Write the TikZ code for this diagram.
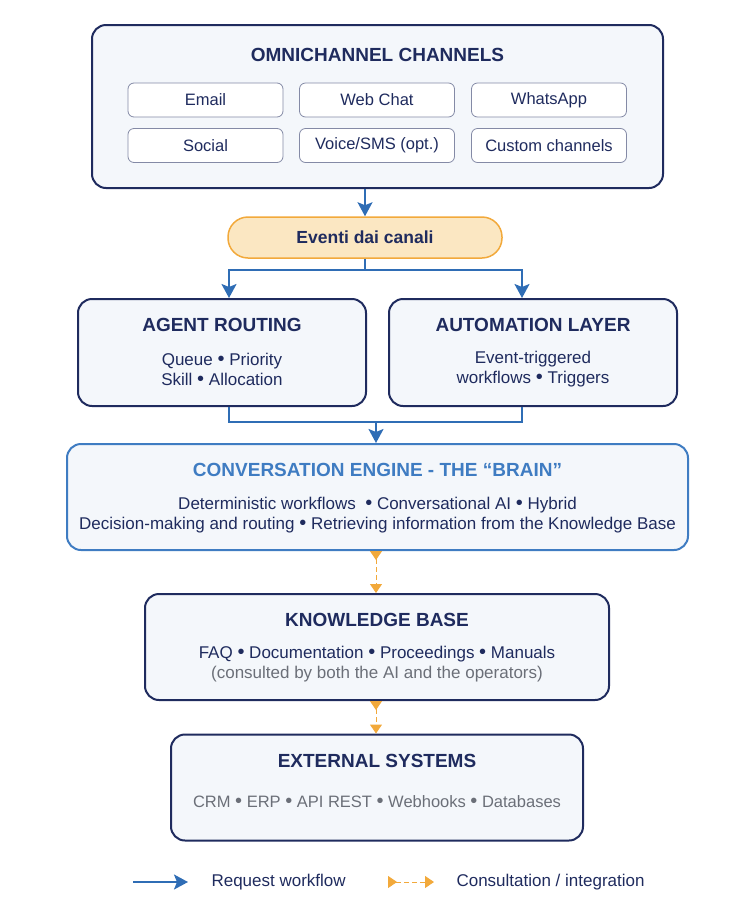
\documentclass[tikz,border=0pt]{standalone}
\usepackage{fontspec}
\setmainfont{Liberation Sans}
\usetikzlibrary{arrows.meta, positioning}
\definecolor{navy}{HTML}{1F2B5E}
\definecolor{flowblue}{HTML}{2F6DB5}
\definecolor{brainblue}{HTML}{3F7CC2}
\definecolor{amber}{HTML}{F2A93B}
\definecolor{pillfill}{HTML}{FBE7C2}
\definecolor{panelfill}{HTML}{F4F7FB}
\definecolor{softgray}{HTML}{6B6F78}

\newcommand{\bul}{{\fontsize{20}{20}\selectfont •}}

\tikzset{
  panel/.style={draw=navy, line width=2pt, fill=panelfill, rounded corners=14pt},
  chanbox/.style={draw=navy!55, line width=0.8pt, fill=white, rounded corners=6pt,
    minimum width=155pt, minimum height=34pt, text=navy, font=\fontsize{16.5}{19}\selectfont},
  paneltitle/.style={text=navy, font=\bfseries\fontsize{19}{22}\selectfont},
  body/.style={text=navy, align=center, font=\fontsize{17}{20}\selectfont},
  flowline/.style={draw=flowblue, line width=2pt},
  flow/.style={flowline, -{Stealth[length=14pt, width=15pt, inset=3pt]}},
  consult/.style={draw=amber, dash pattern=on 5pt off 3pt, line width=1pt,
    {Triangle[reversed, length=9pt, width=12pt]}-{Triangle[length=9pt, width=12pt]}},
}

\begin{document}
\begin{tikzpicture}[x=1pt, y=-1pt]
  \useasboundingbox (0,0) rectangle (732,911);

  % channels
  \node[panel, minimum width=571pt, minimum height=163pt] (omni) at (377.5,106.5) {};
  \node[paneltitle] (omnititle) at ([yshift=-31pt]omni.north) {OMNICHANNEL CHANNELS};
  \node[chanbox] (email) at (205.5,100) {Email};
  \node[chanbox] (webchat) at (377,100) {Web Chat};
  \node[chanbox] (whatsapp) at (549,100) {WhatsApp};
  \node[chanbox] (social) at (205.5,145.5) {Social};
  \node[chanbox] (voice) at (377,145.5) {Voice/SMS (opt.)};
  \node[chanbox] (custom) at (549,145.5) {Custom channels};

  % events
  \node[draw=amber, line width=1.5pt, fill=pillfill, rounded corners=20pt,
        minimum width=274pt, minimum height=41pt, text=navy,
        font=\bfseries\fontsize{17.5}{20}\selectfont] (eventi) at (365,237.5) {Eventi dai canali};

  % routing and automation
  \node[panel, minimum width=288pt, minimum height=107pt] (agent) at (222,352.5) {};
  \node[paneltitle] (agenttitle) at ([yshift=-27pt]agent.north) {AGENT ROUTING};
  \node[body] (agentbody) at ([yshift=-71pt]agent.north) {Queue \bul{} Priority\\Skill \bul{} Allocation};

  \node[panel, minimum width=288pt, minimum height=107pt] (auto) at (533,352.5) {};
  \node[paneltitle] (autotitle) at ([yshift=-27pt]auto.north) {AUTOMATION LAYER};
  \node[body] (autobody) at ([yshift=-71pt]auto.north) {Event-triggered\\workflows \bul{} Triggers};

  % engine
  \node[panel, draw=brainblue, minimum width=621pt, minimum height=106pt] (brain) at (377.5,497) {};
  \node[paneltitle, text=brainblue] (braintitle) at ([yshift=-27pt]brain.north) {CONVERSATION ENGINE - THE “BRAIN”};
  \node[body] (brainbody) at ([yshift=-72pt]brain.north)
    {Deterministic workflows \ \bul{} Conversational AI \bul{} Hybrid\\Decision-making and routing \bul{} Retrieving information from the Knowledge Base};

  % knowledge base
  \node[panel, minimum width=464pt, minimum height=106pt] (kb) at (377,647) {};
  \node[paneltitle] (kbtitle) at ([yshift=-27pt]kb.north) {KNOWLEDGE BASE};
  \node[body] (kbbody) at ([yshift=-71pt]kb.north)
    {FAQ \bul{} Documentation \bul{} Proceedings \bul{} Manuals\\\textcolor{softgray}{(consulted by both the AI and the operators)}};

  % external systems
  \node[panel, minimum width=412pt, minimum height=106pt] (ext) at (377,787.5) {};
  \node[paneltitle] (exttitle) at ([yshift=-27pt]ext.north) {EXTERNAL SYSTEMS};
  \node[body, text=softgray, font=\fontsize{16.5}{20}\selectfont] (extbody) at ([yshift=-68pt]ext.north)
    {CRM \bul{} ERP \bul{} API REST \bul{} Webhooks \bul{} Databases};

  % request flow
  \draw[flow] (omni.south -| eventi.north) -- (eventi.north);
  \coordinate (fork) at (365,270);
  \draw[flowline] (eventi.south) -- (fork);
  \draw[flow] (fork) -| ([xshift=7pt]agent.north);
  \draw[flow] (fork) -| ([xshift=-11pt]auto.north);
  \coordinate (join) at (376,422);
  \draw[flowline] ([xshift=7pt]agent.south) |- (join);
  \draw[flowline] ([xshift=-11pt]auto.south) |- (join);
  \draw[flow] (join) -- (join |- brain.north);

  % consultation
  \draw[consult] (brain.south -| join) -- (kb.north -| join);
  \draw[consult] (kb.south -| join) -- (ext.north -| join);

  % legend
  \coordinate (flowA) at (133,882);
  \coordinate (flowB) at (188,882);
  \draw[flow] (flowA) -- (flowB);
  \node[body, anchor=west] (flowlabel) at (208,882) {Request workflow};
  \coordinate (consA) at (388,882);
  \coordinate (consB) at (434,882);
  \draw[consult] (consA) -- (consB);
  \node[body, anchor=west] (conslabel) at (453,882) {Consultation / integration};
\end{tikzpicture}
\end{document}
